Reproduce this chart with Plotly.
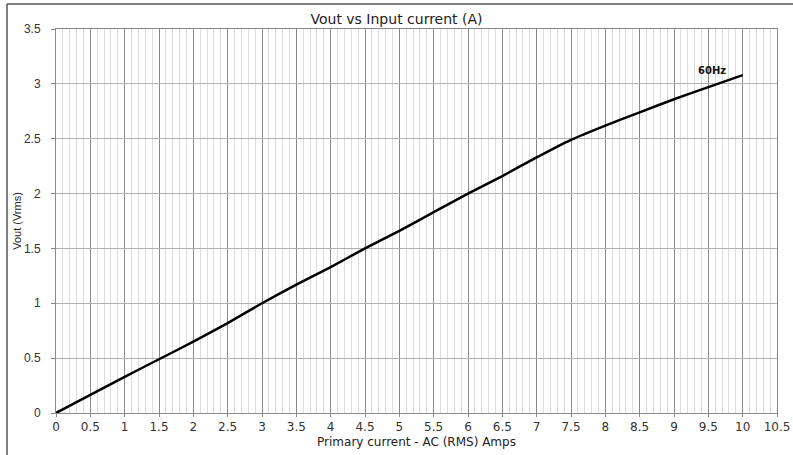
import plotly.graph_objects as go

current = [0, 0.5, 1, 1.5, 2, 2.5, 3, 3.5, 4, 4.5, 5, 5.5, 6, 6.5, 7, 7.5, 8, 8.5, 9, 9.5, 10]
vout = [0, 0.165, 0.33, 0.49, 0.65, 0.82, 1.0, 1.17, 1.33, 1.5, 1.66, 1.83, 2.0, 2.16, 2.33, 2.49, 2.62, 2.74, 2.86, 2.97, 3.08]
series_label = "60Hz"
x_ticks = [0, 0.5, 1, 1.5, 2, 2.5, 3, 3.5, 4, 4.5, 5, 5.5, 6, 6.5, 7, 7.5, 8, 8.5, 9, 9.5, 10, 10.5]
y_ticks = [0, 0.5, 1, 1.5, 2, 2.5, 3, 3.5]

WIDE = "DejaVu Sans"

fig = go.Figure()
fig.add_trace(go.Scatter(x=current, y=vout, mode="lines", line=dict(color="black", width=2.5, smoothing=0.6),
                         line_shape="spline", showlegend=False, hoverinfo="x+y"))
fig.add_annotation(x=9.55, y=3.12, text="<b>" + series_label + "</b>", showarrow=False,
                   font=dict(family=WIDE, size=10, color="#111"))

fig.update_layout(
    width=793, height=455,
    margin=dict(l=56, r=16, t=29, b=42, autoexpand=False),
    paper_bgcolor="white", plot_bgcolor="white",
    title=dict(text="Vout vs Input current (A)", x=0.5, xanchor="center", y=0.958, yanchor="middle",
               font=dict(family=WIDE, size=14, color="#222")),
    font=dict(family="Arial", size=11, color="#333"),
    xaxis=dict(range=[0, 10.5], tickvals=x_ticks, ticktext=[f"{v:g}" for v in x_ticks],
               tickfont=dict(family=WIDE, size=12, color="#333"), automargin=False,
               showgrid=True, gridcolor="#8a8a8a", gridwidth=1,
               minor=dict(dtick=0.1, showgrid=True, gridcolor="#dcdcdc", gridwidth=1),
               showline=True, linecolor="#8a8a8a", mirror=True, zeroline=False,
               ticks="outside", ticklen=3, tickcolor="#8a8a8a",
               title=dict(text="Primary current - AC (RMS) Amps", standoff=4,
                          font=dict(family=WIDE, size=12, color="#222"))),
    yaxis=dict(range=[0, 3.5], tickvals=y_ticks, ticktext=[f"{v:g}" for v in y_ticks],
               tickfont=dict(family="Arial", size=12, color="#333"), automargin=False,
               ticklabelstandoff=8,
               showgrid=True, gridcolor="#b0b0b0", gridwidth=1,
               showline=True, linecolor="#8a8a8a", mirror=True, zeroline=False,
               ticks="outside", ticklen=4, tickcolor="#8a8a8a",
               title=dict(text="Vout (Vrms)", standoff=0,
                          font=dict(family="Arial", size=11, color="#222"))),
)
# outer frame: left and top edges only
fig.add_shape(type="line", xref="paper", yref="paper", x0=(7 - 56) / 721, x1=(7 - 56) / 721,
              y0=(413 - 455) / 384, y1=(413 - 4) / 384, line=dict(color="#555", width=1.5))
fig.add_shape(type="line", xref="paper", yref="paper", x0=(7 - 56) / 721, x1=(793 - 56) / 721,
              y0=(413 - 4) / 384, y1=(413 - 4) / 384, line=dict(color="#555", width=1.5))
fig.write_html("out.html", post_script="document.body.style.margin='0';",
               config={"displayModeBar": False})
